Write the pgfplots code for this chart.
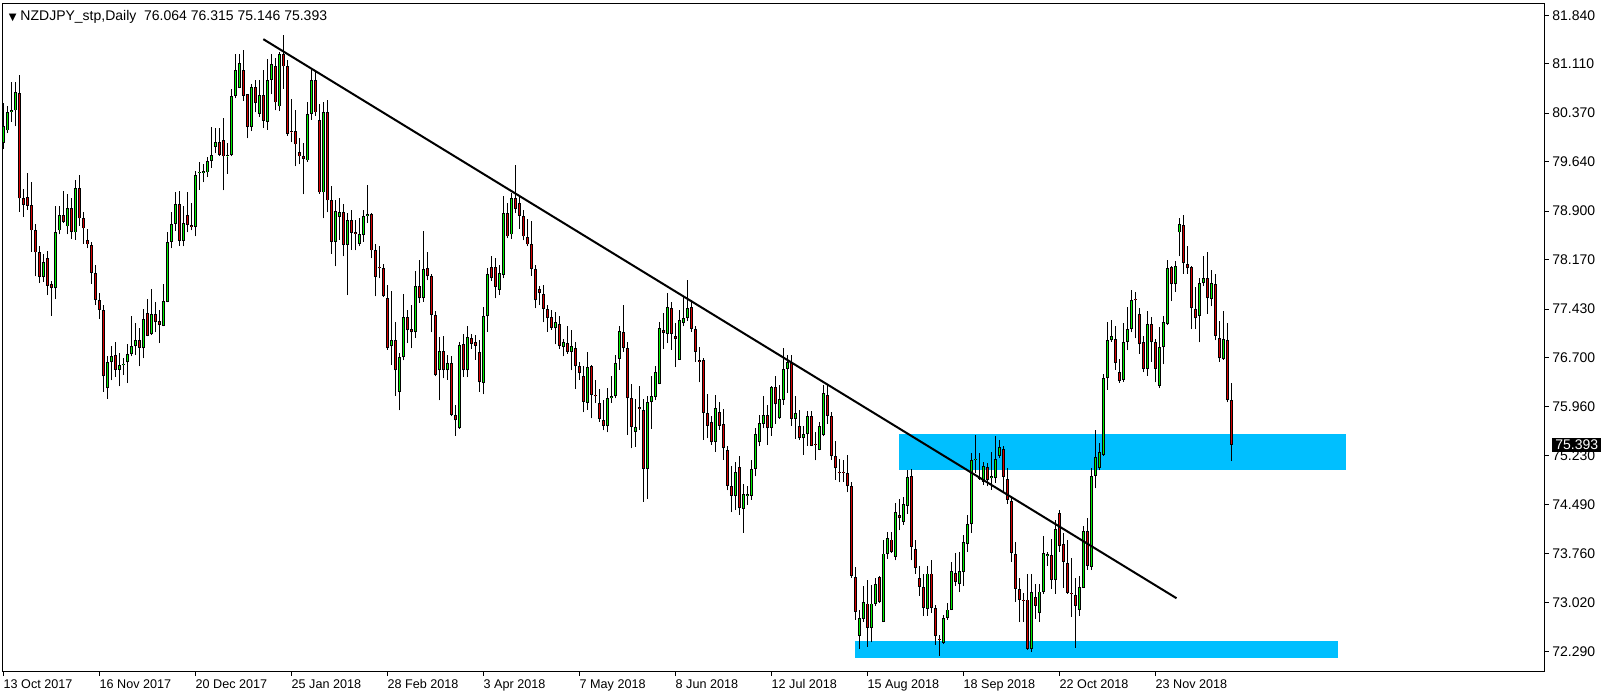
\documentclass[border=0pt]{standalone}
\usepackage{pgfplots}
\pgfplotsset{compat=1.18}
\usepackage{pgfplotstable}
\usepackage{fontspec}
\setmainfont{Liberation Sans}
\newfontfamily\symfont{DejaVu Sans}
\definecolor{bullc}{RGB}{0,240,0}
\definecolor{bearc}{RGB}{215,0,0}
\definecolor{zone}{RGB}{0,191,255}

\pgfplotstableread{
i o h l c
0 79.92 80.52 79.83 80.18
1 80.11 80.47 80.07 80.39
2 80.39 80.83 80.24 80.42
3 80.41 80.84 80.17 80.68
10 77.91 78.25 77.84 78.14
13 77.74 78.97 77.58 78.58
14 78.61 78.97 78.55 78.84
16 78.67 79.15 78.55 78.94
18 78.58 79.37 78.47 79.24
26 76.24 76.73 76.08 76.63
27 76.63 76.88 76.36 76.73
29 76.52 76.77 76.27 76.59
30 76.59 76.69 76.44 76.61
31 76.63 76.90 76.32 76.75
32 76.75 77.33 76.72 76.87
33 76.87 77.22 76.74 76.97
35 76.84 77.43 76.69 77.28
37 77.05 77.73 77.04 77.36
40 77.18 77.81 77.17 77.55
41 77.54 78.59 77.53 78.44
42 78.44 78.88 78.34 78.71
43 78.71 79.18 78.60 79.01
45 78.45 78.98 78.37 78.72
48 78.66 79.50 78.52 79.44
49 79.47 79.63 79.22 79.49
50 79.47 79.61 79.33 79.50
51 79.48 79.71 79.41 79.65
52 79.65 80.16 79.55 79.74
53 79.86 80.14 79.77 79.94
56 79.72 79.92 79.46 79.74
57 79.74 80.73 79.72 80.63
58 80.63 81.26 80.59 81.02
59 80.75 81.26 80.74 81.12
62 80.16 80.80 80.10 80.76
64 80.36 80.87 80.31 80.64
66 80.24 81.18 80.12 80.87
67 80.87 81.26 80.65 81.11
69 80.47 81.28 80.40 81.26
76 79.66 80.54 79.64 80.36
77 80.36 81.03 80.27 80.87
80 79.18 80.53 78.79 80.39
83 78.44 79.07 78.07 78.90
84 78.81 79.09 78.47 78.89
86 78.39 78.87 77.64 78.77
89 78.41 78.79 78.37 78.55
90 78.54 78.92 78.44 78.83
91 78.83 79.29 78.72 78.85
97 76.87 77.70 76.59 76.96
99 76.19 76.77 75.91 76.71
100 76.71 77.66 76.66 77.31
103 77.08 78.00 77.00 77.77
105 77.59 78.60 77.54 78.03
109 76.51 77.01 76.06 76.80
111 76.51 76.74 76.37 76.62
114 75.64 76.94 75.63 76.89
116 76.51 77.17 76.41 77.01
120 76.32 77.46 76.15 77.32
121 77.32 78.05 77.09 77.95
124 77.72 78.09 77.64 77.97
125 77.94 79.13 77.89 78.87
127 78.55 79.17 78.48 79.09
138 77.14 77.39 76.90 77.24
140 76.86 76.98 76.72 76.93
142 76.79 77.12 76.51 76.87
146 76.02 76.79 75.92 76.56
151 75.67 76.24 75.58 76.09
152 76.09 76.42 76.02 76.13
153 76.12 76.74 76.09 76.62
154 76.68 77.18 76.52 77.10
158 75.59 76.08 75.36 75.66
161 75.03 76.12 74.58 76.03
162 76.03 76.43 75.63 76.13
163 76.11 76.57 76.06 76.48
164 76.30 77.23 76.30 77.14
166 77.06 77.67 76.92 77.46
169 76.67 77.42 76.67 77.27
170 77.22 77.62 77.17 77.29
171 77.29 77.87 77.25 77.44
178 75.44 76.14 75.29 75.94
183 74.63 75.14 74.42 74.98
185 74.43 74.80 74.07 74.65
186 74.63 74.77 74.49 74.65
187 74.63 75.17 74.57 75.03
188 75.03 75.64 74.92 75.56
189 75.43 75.84 75.37 75.72
190 75.71 76.13 75.64 75.84
192 75.65 76.28 75.53 76.26
194 75.79 76.29 75.78 76.08
195 76.07 76.84 75.99 76.53
196 76.53 76.74 76.17 76.63
198 75.78 76.12 75.48 75.87
200 75.49 75.67 75.24 75.55
201 75.55 75.90 75.38 75.82
204 75.32 75.74 75.31 75.67
205 75.54 76.29 75.52 76.17
214 72.53 72.92 72.33 72.79
215 72.78 73.27 72.74 73.03
217 72.64 73.29 72.43 73.01
218 73.01 73.39 72.98 73.30
220 72.73 73.97 72.73 73.76
221 73.76 74.09 73.68 73.99
223 73.71 74.52 73.66 74.38
225 74.24 74.61 74.19 74.51
226 74.48 75.02 74.36 74.91
231 72.93 73.57 72.83 73.46
235 72.42 72.84 72.40 72.79
236 72.79 73.02 72.77 72.92
237 72.92 73.63 72.91 73.50
239 73.30 73.78 73.18 73.50
240 73.48 74.04 73.27 73.93
241 73.90 74.34 73.79 74.20
242 74.20 75.27 74.07 75.17
243 75.16 75.54 74.97 75.18
245 74.84 75.14 74.79 75.07
247 74.89 75.29 74.72 74.93
248 74.89 75.52 74.82 75.18
249 75.23 75.47 75.19 75.36
257 72.33 73.46 72.29 73.18
259 72.87 73.31 72.74 73.19
260 73.18 74.02 73.15 73.77
261 73.73 73.79 73.58 73.75
263 73.36 74.26 73.16 74.13
269 72.92 73.43 72.82 73.26
270 73.25 74.18 73.24 74.10
272 73.56 75.05 73.51 74.93
273 74.93 75.62 74.74 75.21
274 75.05 75.42 75.01 75.28
275 75.24 76.46 75.23 76.39
276 76.39 77.23 76.22 76.96
277 76.96 77.26 76.94 77.02
280 76.37 77.22 76.34 76.94
281 76.94 77.46 76.81 77.13
282 77.13 77.72 77.08 77.57
286 76.53 77.40 76.43 77.20
289 76.28 77.16 76.24 76.86
290 76.86 77.32 76.60 77.23
291 77.20 78.17 77.19 78.04
293 77.80 78.15 77.69 78.08
294 78.58 78.79 78.22 78.71
299 77.33 77.89 76.93 77.82
300 77.82 78.23 77.77 77.89
302 77.58 78.02 77.47 77.82
305 76.68 77.40 76.67 76.98
}\bulltab

\pgfplotstableread{
i o h l c
4 80.67 80.94 78.89 79.09
5 79.09 79.23 78.81 78.99
6 79.11 79.47 78.92 78.98
7 78.99 79.34 78.29 78.61
8 78.62 78.71 77.92 78.28
9 78.28 78.38 77.82 77.91
11 78.19 78.30 77.64 77.78
12 77.81 77.85 77.33 77.74
15 78.84 79.20 78.72 78.74
17 78.94 79.10 78.48 78.59
19 79.24 79.44 78.68 78.79
20 78.79 78.89 78.41 78.64
21 78.46 78.63 78.34 78.40
22 78.39 78.44 77.81 77.97
23 77.97 78.09 77.49 77.57
24 77.57 77.67 77.28 77.42
25 77.42 77.49 76.19 76.42
28 76.74 76.94 76.41 76.52
34 76.96 77.14 76.57 76.85
36 77.37 77.58 77.02 77.03
38 77.36 77.54 77.08 77.23
39 77.25 77.41 76.92 77.19
44 79.01 79.20 78.38 78.45
46 78.84 79.18 78.58 78.69
47 78.69 79.02 78.61 78.66
54 79.94 80.15 79.73 79.74
55 79.97 80.29 79.21 79.72
60 81.01 81.31 80.55 80.63
61 80.65 80.66 79.99 80.16
63 80.76 80.87 80.38 80.52
65 80.64 81.02 80.15 80.25
68 81.08 81.20 80.41 80.53
70 81.26 81.55 80.73 81.07
71 81.08 81.17 80.03 80.06
72 80.10 80.58 79.93 80.08
73 80.10 80.42 79.57 79.90
74 79.78 79.99 79.60 79.72
75 79.73 79.92 79.15 79.68
78 80.87 81.01 80.33 80.38
79 80.26 80.51 79.16 79.18
81 80.39 80.57 78.88 79.06
82 79.07 79.28 78.26 78.44
85 78.89 79.01 78.22 78.39
87 78.77 78.92 78.32 78.57
88 78.58 78.77 78.31 78.56
92 78.85 78.87 78.19 78.31
93 78.32 78.40 77.62 77.91
94 78.06 78.37 77.89 78.04
95 78.04 78.10 77.61 77.62
96 77.59 77.79 76.82 76.84
98 76.96 77.24 76.13 76.51
101 77.31 77.42 76.92 77.11
102 77.13 77.49 76.84 77.08
104 77.77 78.17 77.52 77.59
106 78.04 78.28 77.86 77.92
107 77.93 77.96 77.08 77.34
108 77.34 77.40 76.42 76.44
110 76.80 77.03 76.39 76.51
112 76.62 76.72 75.82 75.84
113 75.84 75.99 75.53 75.76
115 76.90 77.06 76.41 76.51
117 76.99 77.05 76.83 76.91
118 76.93 77.04 76.67 76.88
119 76.78 76.96 76.19 76.33
122 78.06 78.22 77.85 77.89
123 78.06 78.19 77.59 77.76
126 78.87 79.02 78.49 78.52
128 79.09 79.59 78.87 78.93
129 79.02 79.12 78.63 78.83
130 78.83 78.92 78.46 78.52
131 78.51 78.78 78.37 78.40
132 78.40 78.75 77.93 78.03
133 78.03 78.09 77.44 77.56
134 77.73 77.78 77.49 77.67
135 77.65 77.79 77.23 77.43
136 77.43 77.49 77.09 77.29
137 77.31 77.41 77.12 77.15
139 77.21 77.33 76.83 76.87
141 76.92 77.17 76.76 76.79
143 76.84 76.94 76.23 76.57
144 76.58 76.63 76.37 76.47
145 76.42 76.57 75.88 76.04
147 76.58 76.59 75.79 76.14
148 76.14 76.37 76.02 76.12
149 76.02 76.23 75.74 75.78
150 75.77 76.07 75.61 75.68
155 77.08 77.49 76.79 76.84
156 76.84 76.93 75.54 76.09
157 76.09 76.31 75.34 75.66
159 75.96 76.27 75.62 75.93
160 75.92 76.08 74.54 75.03
165 77.12 77.37 76.83 77.07
167 77.44 77.54 76.82 77.06
168 77.03 77.22 76.56 76.98
172 77.46 77.56 77.09 77.13
173 77.13 77.18 76.64 76.79
174 76.66 76.86 76.33 76.64
175 76.67 76.69 75.47 75.87
176 75.87 76.16 75.49 75.68
177 75.73 75.82 75.39 75.43
179 75.88 76.04 75.62 75.68
180 75.71 75.93 75.17 75.34
181 75.32 75.37 74.71 74.78
182 74.78 75.07 74.38 74.63
184 75.06 75.22 74.34 74.44
191 75.84 75.99 75.39 75.64
193 76.26 76.42 75.71 76.00
197 76.64 76.74 75.68 75.78
199 75.67 75.92 75.47 75.49
202 75.82 75.90 75.37 75.38
203 75.41 75.59 75.16 75.39
206 76.14 76.29 75.71 75.83
207 75.83 75.89 75.17 75.22
208 75.23 75.45 74.87 75.04
209 74.98 75.18 74.83 74.97
210 74.98 75.17 74.84 74.97
211 74.97 75.24 74.68 74.77
212 74.78 74.83 73.39 73.43
213 73.41 73.56 72.77 72.89
216 73.01 73.37 72.36 72.65
219 73.41 73.42 73.02 73.03
222 73.97 74.09 73.77 73.78
224 74.34 74.58 74.11 74.29
227 74.93 75.03 73.66 73.86
228 73.83 73.96 73.46 73.54
229 73.39 73.57 73.13 73.26
230 73.26 73.46 72.82 72.94
232 73.46 73.67 72.87 72.94
233 72.94 72.99 72.39 72.52
234 72.48 72.54 72.23 72.47
238 73.47 73.77 73.27 73.34
244 74.91 75.27 74.87 74.88
246 75.06 75.12 74.77 74.87
250 75.33 75.37 74.69 74.91
251 74.88 75.04 74.51 74.57
252 74.55 74.62 73.64 73.77
253 73.75 73.93 73.04 73.23
254 73.23 73.39 72.73 73.07
255 73.06 73.17 72.73 73.05
256 73.07 73.46 72.32 72.33
258 73.11 73.31 72.78 72.98
262 73.74 73.98 73.23 73.36
264 74.37 74.41 73.79 73.87
265 73.90 74.07 73.24 73.64
266 73.62 73.97 73.16 73.17
267 73.17 73.69 72.81 73.16
268 73.14 73.40 72.35 72.98
271 74.10 74.29 73.52 73.58
278 76.98 77.17 76.52 76.62
279 76.49 76.68 76.32 76.35
283 77.57 77.68 76.99 77.56
284 77.35 77.44 76.76 76.90
285 76.93 77.02 76.48 76.53
287 77.20 77.31 76.64 76.93
288 76.93 76.98 76.33 76.53
292 78.06 78.08 77.55 77.80
295 78.69 78.84 77.96 78.12
296 78.11 78.38 77.96 78.04
297 78.06 78.07 77.13 77.44
298 77.43 77.76 77.13 77.29
301 77.89 78.29 77.36 77.59
303 77.80 77.96 76.96 77.03
304 76.99 77.25 76.64 76.69
306 76.97 77.22 76.03 76.06
307 76.064 76.315 75.146 75.393
}\beartab

\pgfplotsset{
  candle/.style n args={3}{draw=none, mark=none, forget plot,
    error bars/.cd, y dir=plus, y explicit, error mark=none,
    error bar style={draw=#1, line width=#2, #3}},
}

\begin{document}
\begin{tikzpicture}
\begin{axis}[
  at={(0,0)}, anchor=south west,
  scale only axis, width=771.2pt, height=334pt,
  xmin=-0.2, xmax=385.4, ymin=71.983, ymax=82.008,
  clip=false,
  axis line style={black, line width=0.5pt},
  tick align=outside, major tick length=2pt,
  tick style={black, line width=0.5pt},
  xtick pos=bottom, ytick pos=right,
  xtick={0,24,48,72,96,120,144,168,192,216,240,264,288},
  xticklabels={13 Oct 2017,16 Nov 2017,20 Dec 2017,25 Jan 2018,28 Feb 2018,3 Apr 2018,7 May 2018,8 Jun 2018,12 Jul 2018,15 Aug 2018,18 Sep 2018,22 Oct 2018,23 Nov 2018},
  ytick={72.29,73.02,73.76,74.49,75.23,75.96,76.70,77.43,78.17,78.90,79.64,80.37,81.11,81.84},
  yticklabels={72.290,73.020,73.760,74.490,75.230,75.960,76.700,77.430,78.170,78.900,79.640,80.370,81.110,81.840},
  tick label style={font=\fontsize{7}{8}\selectfont, text=black},
  xticklabel style={anchor=north west, inner sep=0pt, xshift=0pt, yshift=-1.5pt, font=\fontsize{6.3}{8}\selectfont},
  yticklabel style={anchor=west, inner sep=0pt, xshift=1.5pt},
]
% zones
\addplot[fill=zone, draw=none, forget plot] coordinates {(223.9,75.02) (335.7,75.02) (335.7,75.556) (223.9,75.556)} -- cycle;
\addplot[fill=zone, draw=none, forget plot] coordinates {(212.9,72.198) (333.7,72.198) (333.7,72.449) (212.9,72.449)} -- cycle;
% wicks
\addplot[candle={black}{0.5pt}{}]
  table[x=i, y=l, y error expr=\thisrow{h}-\thisrow{l}] {\bulltab};
\addplot[candle={black}{0.5pt}{}]
  table[x=i, y=l, y error expr=\thisrow{h}-\thisrow{l}] {\beartab};
% bodies outline
\addplot[candle={black}{1.6pt}{}]
  table[x=i, y=o, y error expr={max(\thisrow{c}-\thisrow{o},0.015)}] {\bulltab};
\addplot[candle={black}{1.6pt}{}]
  table[x=i, y=c, y error expr={max(\thisrow{o}-\thisrow{c},0.015)}] {\beartab};
% bodies fill
\addplot[candle={bullc}{0.7pt}{shorten <=0.45pt, shorten >=0.45pt}]
  table[x=i, y=o, y error expr={max(\thisrow{c}-\thisrow{o},0.015)}] {\bulltab};
\addplot[candle={bearc}{0.7pt}{shorten <=0.45pt, shorten >=0.45pt}]
  table[x=i, y=c, y error expr={max(\thisrow{o}-\thisrow{c},0.015)}] {\beartab};
% trend line
\addplot[black, line width=1pt, forget plot] coordinates {(65,81.48) (293.3,73.09)};
% current price
\node[fill=black, text=white, anchor=west, inner xsep=1.5pt, inner ysep=1pt,
  font=\fontsize{7}{8}\selectfont] at (axis cs:385.4,75.393) [xshift=3.5pt] {75.393};
\node[anchor=north west, inner sep=0pt, font=\fontsize{7}{8}\selectfont]
  at (rel axis cs:0,1) [xshift=3pt, yshift=-3pt]
  {{\symfont\fontsize{5}{6}\selectfont ▼}\ NZDJPY\_stp,Daily\ \ 76.064 76.315 75.146 75.393};
\end{axis}
\pgfresetboundingbox
\path[use as bounding box] (-1.25pt,-11.5pt) rectangle (800.75pt,336pt);
\end{tikzpicture}
\end{document}
